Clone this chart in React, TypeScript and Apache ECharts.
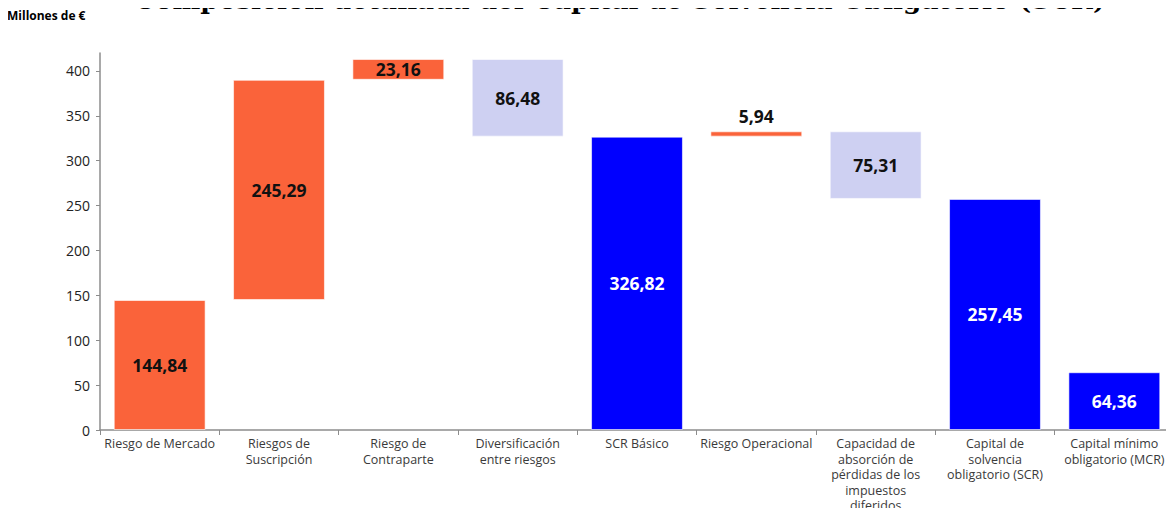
import React, { useEffect, useRef } from "react";
import * as echarts from "echarts";

const categories = [
  "Riesgo de Mercado",
  "Riesgos de\nSuscripción",
  "Riesgo de\nContraparte",
  "Diversificación\nentre riesgos",
  "SCR Básico",
  "Riesgo Operacional",
  "Capacidad de\nabsorción de\npérdidas de los\nimpuestos\ndiferidos",
  "Capital de\nsolvencia\nobligatorio (SCR)",
  "Capital mínimo\nobligatorio (MCR)",
];
// change amounts; totals start from zero
const values = [144.84, 245.29, 23.16, -86.48, 326.82, 5.94, -75.31, 257.45, 64.36];
const kinds = ["inc", "inc", "inc", "dec", "total", "inc", "dec", "total", "total"];
const yTicks = [0, 50, 100, 150, 200, 250, 300, 350, 400];

const COLORS: Record<string, string> = {
  inc: "#FA633A",
  dec: "#CED0F2",
  total: "#0000FF",
};

function fmt(v: number) {
  return Math.abs(v).toFixed(2).replace(".", ",");
}

export default function App() {
  const ref = useRef<HTMLDivElement>(null);
  useEffect(() => {
    if (!ref.current) return;
    const chart = echarts.init(ref.current, null, { renderer: "svg" });

    const bases: number[] = [];
    const heights: number[] = [];
    let running = 0;
    values.forEach((v, i) => {
      const k = kinds[i];
      if (k === "total") {
        bases.push(0);
        heights.push(v);
        running = v;
      } else if (k === "inc") {
        bases.push(running);
        heights.push(v);
        running += v;
      } else {
        running += v;
        bases.push(running);
        heights.push(-v);
      }
    });

    const font = "'Open Sans', 'DejaVu Sans', sans-serif";

    chart.setOption({
      animation: false,
      backgroundColor: "#ffffff",
      grid: { left: 100, right: 0, top: 53, bottom: 86, containLabel: false },
      graphic: [
        {
          type: "text",
          left: 134,
          top: -14,
          style: {
            text: "Composición detallada del Capital de Solvencia Obligatorio (SCR)",
            font: "bold 26.3px 'DejaVu Serif', serif",
            fill: "#000",
          },
        },
        {
          type: "text",
          left: 7,
          top: 9,
          style: {
            text: "Millones de €",
            font: "bold 12px " + font,
            fill: "#000",
          },
        },
      ],
      xAxis: {
        type: "category",
        data: categories,
        axisLine: { lineStyle: { color: "#8c8c8c", width: 1.5 } },
        axisTick: { show: true, length: 5, lineStyle: { color: "#8c8c8c" } },
        axisLabel: {
          interval: 0,
          color: "#3a3a3a",
          fontSize: 12.5,
          lineHeight: 15.5,
          fontFamily: font,
          margin: 6,
        },
      },
      yAxis: {
        type: "value",
        min: 0,
        max: 420,
        interval: 50,
        splitLine: { show: false },
        axisLine: { show: true, lineStyle: { color: "#8c8c8c", width: 1.5 } },
        axisTick: { show: true, length: 4, lineStyle: { color: "#8c8c8c" } },
        axisLabel: {
          color: "#222",
          fontSize: 14,
          fontFamily: font,
          margin: 10,
          showMaxLabel: false,
          formatter: (v: number) => (yTicks.includes(v) ? String(v) : ""),
        },
      },
      series: [
        {
          type: "bar",
          stack: "wf",
          data: bases,
          itemStyle: { color: "transparent" },
          emphasis: { disabled: true },
          silent: true,
          barCategoryGap: "23%",
        },
        {
          type: "bar",
          stack: "wf",
          barCategoryGap: "23%",
          data: heights.map((h, i) => ({
            value: h,
            itemStyle: {
              color: COLORS[kinds[i]],
              borderColor: "rgba(255,255,255,0.6)",
              borderWidth: 1,
            },
            label: {
              show: true,
              position: i === 5 ? "top" : "inside",
              distance: 6,
              formatter: fmt(values[i]),
              color: kinds[i] === "total" ? "#ffffff" : "#111111",
              fontSize: 17.5,
              fontWeight: "bold",
              fontFamily: font,
            },
          })),
        },
      ],
    });
    return () => chart.dispose();
  }, []);
  return <div ref={ref} style={{ width: 1174, height: 516, margin: -8 }} />;
}
